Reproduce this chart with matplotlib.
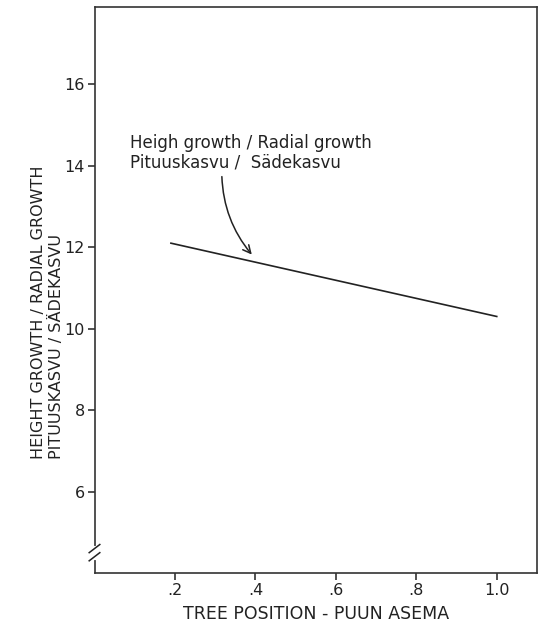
import matplotlib
matplotlib.use("Agg")
import matplotlib.pyplot as plt

# Data
tree_position = [0.19, 1.0]
growth_ratio = [12.1, 10.3]
x_ticks = [0.2, 0.4, 0.6, 0.8, 1.0]
x_tick_labels = [".2", ".4", ".6", ".8", "1.0"]
y_ticks = [6, 8, 10, 12, 14, 16]
y_tick_labels = ["6", "8", "10", "12", "14", "16"]
annotation_text = "Heigh growth / Radial growth\nPituuskasvu /  Sädekasvu"
x_label = "TREE POSITION - PUUN ASEMA"
y_label = "HEIGHT GROWTH / RADIAL GROWTH\nPITUUSKASVU / SÄDEKASVU"

plt.rcParams['font.family'] = ['DejaVu Sans']
fig = plt.figure(figsize=(5.4, 6.24), dpi=100)
ax = fig.add_axes([0.175, 0.0817, 0.8194, 0.9071])

ax.plot(tree_position, growth_ratio, color="#222222", lw=1.2)

ax.set_xlim(0, 1.1)
ax.set_ylim(4, 17.9)
ax.set_xticks(x_ticks)
ax.set_xticklabels(x_tick_labels)
ax.set_yticks(y_ticks)
ax.set_yticklabels(y_tick_labels)
ax.tick_params(axis='both', direction='out', length=5, width=1.1, labelsize=11.5,
               color="#222222", labelcolor="#222222", pad=2)
for sp in ax.spines.values():
    sp.set_linewidth(1.2)
    sp.set_color("#333333")

ax.set_xlabel(x_label, fontsize=12.5, color="#222222", labelpad=5)

# y label (two lines, bottom-aligned)
fig.text(0.088, 0.265, y_label, rotation=90, fontsize=11.5, color="#222222",
         ha='center', va='bottom', multialignment='left', linespacing=1.3)

# annotation with curved arrow
ax.annotate(annotation_text, xy=(0.391, 11.82), xytext=(0.088, 14.33),
            fontsize=12, color="#222222", ha='left', va='center', linespacing=1.1,
            arrowprops=dict(arrowstyle='->', color="#222222", lw=1.1,
                            connectionstyle="arc3,rad=0.18",
                            shrinkA=2, shrinkB=0, mutation_scale=14,
                            relpos=(0.38, 0.0)))

# axis break mark on the y axis
trans = ax.get_yaxis_transform()
ax.plot([0.0, 0.0], [4.38, 4.62], transform=trans, color='white', lw=3,
        clip_on=False, zorder=5)
for yc in (4.4, 4.6):
    ax.plot([-0.012, 0.012], [yc - 0.1, yc + 0.1], transform=trans,
            color="#222222", lw=1.1, clip_on=False, zorder=6)

fig.savefig("out.png", dpi=100, facecolor='white')
